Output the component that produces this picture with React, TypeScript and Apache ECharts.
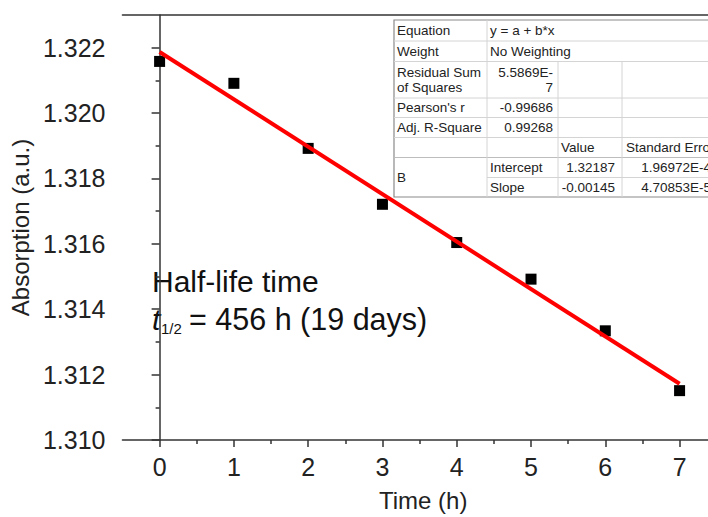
import React, { useEffect, useRef } from "react";
import * as echarts from "echarts";

// ---- data ----
const times = [0, 1, 2, 3, 4, 5, 6, 7];
const absorption = [1.32158, 1.32091, 1.31892, 1.31721, 1.31604, 1.31492, 1.31334, 1.31151];
const fitIntercept = 1.32187;
const fitSlope = -0.00145;
const fitRange = [0, 7];

const xTickValues = [0, 1, 2, 3, 4, 5, 6, 7];
const xMinorTickValues = [0.5, 1.5, 2.5, 3.5, 4.5, 5.5, 6.5, 7.5];
const yTickValues = [1.31, 1.312, 1.314, 1.316, 1.318, 1.32, 1.322];
const yMinorTickValues = [1.311, 1.313, 1.315, 1.317, 1.319, 1.321];

// fit table content
const tableLabels = ["Equation", "Weight", "Residual Sum\nof Squares", "Pearson's r", "Adj. R-Square", "", "B"];
const tableInfo = ["y = a + b*x", "No Weighting"];
const tableStats = ["5.5869E-\n7", "-0.99686", "0.99268"];
const tableHeader = ["Value", "Standard Error"];
const paramNames = ["Intercept", "Slope"];
const paramValues = ["1.32187", "-0.00145"];
const paramErrors = ["1.96972E-4", "4.70853E-5"];

const FONT = "'Liberation Sans', Arial, Helvetica, sans-serif";
const CHART_W = 724;

export default function App() {
  const ref = useRef<HTMLDivElement>(null);

  useEffect(() => {
    document.body.style.margin = "0";
    if (!ref.current) return;
    const chart = echarts.init(ref.current, undefined, { renderer: "svg" });

    const gridLeft = 119;
    const pxPerUnit = 74.71;
    const xMin = -0.5;
    const xMax = xMin + (CHART_W - gridLeft) / pxPerUnit;

    const fitLine = fitRange.map((x) => [x, fitIntercept + fitSlope * x]);

    // table geometry
    const R = [20, 41, 61.5, 98, 117.5, 137.5, 157.5, 177.5, 197];
    const C = [394, 487, 558, 622];
    const TR = 760;
    const txt = (text: string, x: number, y: number, align: string = "left") => ({
      type: "text",
      x,
      y,
      style: {
        text,
        fill: "#222",
        font: `13.5px ${FONT}`,
        align,
        verticalAlign: "middle",
        lineHeight: 15,
      },
    });
    const hl = (y: number, x1: number, x2: number, c = "#d4d4d4", w = 1) => ({
      type: "line",
      shape: { x1, y1: y, x2, y2: y },
      style: { stroke: c, lineWidth: w },
    });
    const vl = (x: number, y1: number, y2: number, c = "#d4d4d4", w = 1) => ({
      type: "line",
      shape: { x1: x, y1, x2: x, y2 },
      style: { stroke: c, lineWidth: w },
    });
    const mid = (i: number) => (R[i] + R[i + 1]) / 2;

    const tableEls: any[] = [
      {
        type: "rect",
        shape: { x: C[0], y: R[0], width: TR - C[0], height: R[8] - R[0] },
        style: { fill: "#fff", stroke: "#8a8a8a", lineWidth: 1.2 },
      },
      hl(R[1], C[0], TR),
      hl(R[2], C[0], TR),
      hl(R[3], C[0], TR),
      hl(R[4], C[0], TR),
      hl(R[5], C[0], TR),
      hl(R[6], C[0], TR, "#bdbdbd"),
      hl(R[7], C[1], TR),
      vl(C[1], R[0], R[8]),
      vl(C[2], R[2], R[8]),
      vl(C[3], R[2], R[8]),
    ];
    tableLabels.forEach((t, i) => {
      if (!t) return;
      if (i === 6) tableEls.push(txt(t, 397, (R[6] + R[8]) / 2));
      else tableEls.push(txt(t, 397, mid(i)));
    });
    tableInfo.forEach((t, i) => tableEls.push(txt(t, 490, mid(i))));
    tableStats.forEach((t, i) => tableEls.push(txt(t, 553, mid(i + 2), "right")));
    tableEls.push(txt(tableHeader[0], 561, mid(5)));
    tableEls.push(txt(tableHeader[1], 626, mid(5)));
    paramNames.forEach((t, i) => {
      tableEls.push(txt(t, 490, mid(6 + i)));
      tableEls.push(txt(paramValues[i], 615, mid(6 + i), "right"));
      tableEls.push(txt(paramErrors[i], 711, mid(6 + i), "right"));
    });

    const annotation: any[] = [
      {
        type: "text",
        x: 152,
        y: 281,
        style: { text: "Half-life time", fill: "#111", font: `30px ${FONT}`, verticalAlign: "middle" },
      },
      {
        type: "text",
        x: 152,
        y: 319,
        style: { text: "t", fill: "#111", font: `italic 30px ${FONT}`, verticalAlign: "middle" },
      },
      {
        type: "text",
        x: 161,
        y: 328,
        style: { text: "1/2", fill: "#111", font: `15px ${FONT}`, verticalAlign: "middle" },
      },
      {
        type: "text",
        x: 189,
        y: 319,
        style: { text: "= 456 h (19 days)", fill: "#111", font: `30.5px ${FONT}`, verticalAlign: "middle" },
      },
    ];

    const axisLine = { show: true, lineStyle: { color: "#333", width: 1.5 } };

    chart.setOption({
      animation: false,
      backgroundColor: "#fff",
      textStyle: { fontFamily: FONT },
      grid: { left: gridLeft, top: 15, right: 0, bottom: 64, containLabel: false },
      xAxis: [
        {
          type: "value",
          min: xMin,
          max: xMax,
          position: "bottom",
          axisLine,
          axisTick: { show: true, customValues: xTickValues, length: 7, lineStyle: { color: "#333", width: 1.5 } },
          axisLabel: { show: true, customValues: xTickValues, fontSize: 25, color: "#222", margin: 14, fontFamily: FONT },
          splitLine: { show: false },
          name: "Time (h)",
          nameLocation: "middle",
          nameGap: 48,
          nameTextStyle: { fontSize: 24, color: "#222", fontFamily: FONT },
        },
        {
          type: "value",
          min: xMin,
          max: xMax,
          position: "bottom",
          axisLine: { show: false },
          axisTick: { show: true, customValues: xMinorTickValues, length: 4, lineStyle: { color: "#333", width: 1.5 } },
          axisLabel: { show: false },
          splitLine: { show: false },
        },
        {
          type: "value",
          min: xMin,
          max: xMax,
          position: "top",
          axisLine,
          axisTick: { show: false },
          axisLabel: { show: false },
          splitLine: { show: false },
        },
      ],
      yAxis: [
        {
          type: "value",
          min: 1.31,
          max: 1.323,
          position: "left",
          axisLine,
          axisTick: { show: true, customValues: yTickValues, length: 8, lineStyle: { color: "#333", width: 1.5 } },
          axisLabel: {
            show: true,
            customValues: yTickValues,
            fontSize: 25,
            color: "#222",
            margin: 17,
            fontFamily: FONT,
            formatter: (v: number) => v.toFixed(3),
          },
          splitLine: { show: false },
          name: "Absorption (a.u.)",
          nameLocation: "middle",
          nameGap: 85,
          nameTextStyle: { fontSize: 24, color: "#222", fontFamily: FONT },
        },
        {
          type: "value",
          min: 1.31,
          max: 1.323,
          position: "left",
          axisLine: { show: false },
          axisTick: { show: true, customValues: yMinorTickValues, length: 4, lineStyle: { color: "#333", width: 1.5 } },
          axisLabel: { show: false },
          splitLine: { show: false },
        },
      ],
      series: [
        {
          type: "scatter",
          name: "Absorption",
          xAxisIndex: 0,
          yAxisIndex: 0,
          data: times.map((t, i) => [t, absorption[i]]),
          symbol: "rect",
          symbolSize: 11,
          itemStyle: { color: "#000", opacity: 1 },
          z: 2,
        },
        {
          type: "line",
          name: "Linear fit",
          xAxisIndex: 0,
          yAxisIndex: 0,
          data: fitLine,
          symbol: "none",
          lineStyle: { color: "#ff0000", width: 4 },
          z: 3,
        },
      ],
      graphic: [...annotation, ...tableEls],
    });

    return () => chart.dispose();
  }, []);

  return (
    <div style={{ width: 708, height: 517, overflow: "hidden", position: "relative" }}>
      <div ref={ref} style={{ width: CHART_W, height: 517 }} />
    </div>
  );
}
